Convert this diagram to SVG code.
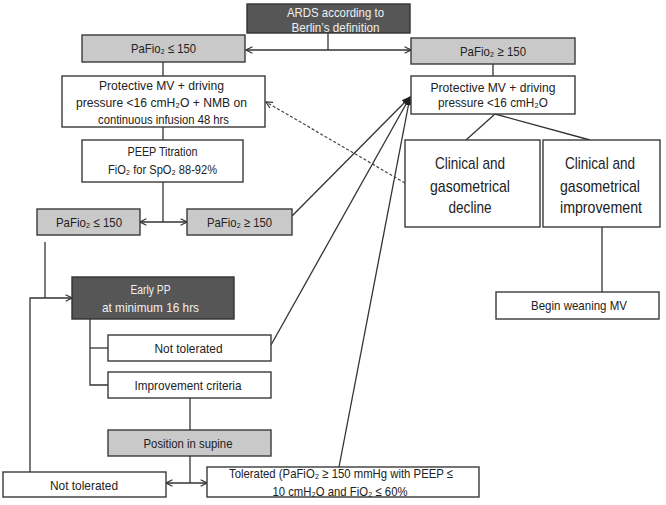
<svg xmlns="http://www.w3.org/2000/svg" width="666" height="505" viewBox="0 0 666 505">
<style>
  .box{fill:#fff;stroke:#3a3a3a;stroke-width:1.4}
  .gray{fill:#c9c9c9;stroke:#3a3a3a;stroke-width:1.4}
  .dark{fill:#565656;stroke:#333;stroke-width:1.4}
  text{font-family:"Liberation Sans","DejaVu Sans",Arial,sans-serif;font-size:13.5px;fill:#222;text-anchor:middle}
  .w{fill:#f0f0f0}
  .big{font-size:17px}
  .c{fill:none;stroke:#333;stroke-width:1.3}
  .d{fill:none;stroke:#444;stroke-width:1.2;stroke-dasharray:3,2}
</style>
<defs>
  <marker id="oa" viewBox="0 0 10 10" refX="9" refY="5" markerWidth="8" markerHeight="8" markerUnits="userSpaceOnUse" orient="auto-start-reverse">
    <path d="M1,1 L9,5 L1,9" fill="none" stroke="#333" stroke-width="1.5"/>
  </marker>
  <marker id="fa" viewBox="0 0 10 10" refX="9" refY="5" markerWidth="9" markerHeight="9" markerUnits="userSpaceOnUse" orient="auto">
    <path d="M0,1 L10,5 L0,9 Z" fill="#222"/>
  </marker>
</defs>

<g id="connectors">
  <line class="c" x1="328" y1="33" x2="328" y2="50"/>
  <line class="c" x1="246" y1="50" x2="411" y2="50" marker-start="url(#oa)" marker-end="url(#oa)"/>
  <line class="c" x1="163" y1="62" x2="163" y2="76"/>
  <line class="c" x1="493" y1="64" x2="493" y2="76"/>
  <line class="c" x1="163" y1="127" x2="163" y2="140"/>
  <line class="c" x1="163" y1="182" x2="163" y2="222"/>
  <line class="c" x1="140" y1="222" x2="187" y2="222" marker-start="url(#oa)" marker-end="url(#oa)"/>
  <polyline class="c" points="495,114 466,140"/>
  <polyline class="c" points="495,114 590,140"/>
  <line class="c" x1="602" y1="227" x2="602" y2="292"/>
  <polyline class="c" points="45,242 45,298"/>
  <polyline class="c" points="30,472 30,298 72,298" marker-end="url(#oa)"/>
  <polyline class="c" points="90,319 90,385 108,385"/>
  <line class="c" x1="90" y1="348" x2="108" y2="348"/>
  <line class="c" x1="190" y1="398" x2="190" y2="430"/>
  <line class="c" x1="190" y1="456" x2="190" y2="483"/>
  <line class="c" x1="166" y1="483" x2="207" y2="483" marker-start="url(#oa)" marker-end="url(#oa)"/>
  <line class="c" x1="292" y1="216" x2="410" y2="97" marker-end="url(#fa)"/>
  <line class="c" x1="271" y1="345" x2="410" y2="97" marker-end="url(#fa)"/>
  <line class="c" x1="339" y1="467" x2="410" y2="97" marker-end="url(#fa)"/>
  <line class="d" x1="405" y1="183" x2="266" y2="102" marker-end="url(#oa)"/>
</g>

<g id="ards">
  <rect class="dark" x="247" y="4" width="163" height="29"/>
  <text class="w" x="335.5" y="17" textLength="97" lengthAdjust="spacingAndGlyphs">ARDS according to</text>
  <text class="w" x="335.5" y="31.5" textLength="88" lengthAdjust="spacingAndGlyphs">Berlin’s definition</text>
</g>
<g id="pafio-low-top">
  <rect class="gray" x="82" y="35" width="163" height="27"/>
  <text x="163.5" y="53" textLength="65" lengthAdjust="spacingAndGlyphs">PaFio₂ ≤ 150</text>
</g>
<g id="pafio-high-top">
  <rect class="gray" x="411" y="38" width="164" height="26"/>
  <text x="493" y="56" textLength="66" lengthAdjust="spacingAndGlyphs">PaFio₂ ≥ 150</text>
</g>
<g id="protective-nmb">
  <rect class="box" x="62" y="76" width="203" height="51"/>
  <text x="161.5" y="90" textLength="125" lengthAdjust="spacingAndGlyphs">Protective MV + driving</text>
  <text x="161.5" y="107" textLength="171" lengthAdjust="spacingAndGlyphs">pressure &lt;16 cmH₂O + NMB on</text>
  <text x="163.5" y="124" textLength="131" lengthAdjust="spacingAndGlyphs">continuous infusion 48 hrs</text>
</g>
<g id="protective">
  <rect class="box" x="411" y="76" width="164" height="38"/>
  <text x="493" y="92" textLength="125" lengthAdjust="spacingAndGlyphs">Protective MV + driving</text>
  <text x="493" y="107" textLength="110" lengthAdjust="spacingAndGlyphs">pressure &lt;16 cmH₂O</text>
</g>
<g id="peep">
  <rect class="box" x="82" y="140" width="161" height="42"/>
  <text x="162.5" y="156" textLength="70" lengthAdjust="spacingAndGlyphs">PEEP Titration</text>
  <text x="162.5" y="174" textLength="109" lengthAdjust="spacingAndGlyphs">FiO₂ for SpO₂ 88-92%</text>
</g>
<g id="pafio-low-mid">
  <rect class="gray" x="37" y="209" width="103" height="26"/>
  <text x="89" y="226.5" textLength="66" lengthAdjust="spacingAndGlyphs">PaFio₂ ≤ 150</text>
</g>
<g id="pafio-high-mid">
  <rect class="gray" x="187" y="209" width="105" height="26"/>
  <text x="239.5" y="226.5" textLength="65" lengthAdjust="spacingAndGlyphs">PaFio₂ ≥ 150</text>
</g>
<g id="decline">
  <rect class="box" x="405" y="140" width="135" height="87"/>
  <text class="big" x="470" y="169" textLength="70" lengthAdjust="spacingAndGlyphs">Clinical and</text>
  <text class="big" x="470" y="191.5" textLength="80" lengthAdjust="spacingAndGlyphs">gasometrical</text>
  <text class="big" x="470" y="213" textLength="43" lengthAdjust="spacingAndGlyphs">decline</text>
</g>
<g id="improvement">
  <rect class="box" x="543" y="140" width="117" height="87"/>
  <text class="big" x="600" y="169" textLength="70" lengthAdjust="spacingAndGlyphs">Clinical and</text>
  <text class="big" x="600" y="191.5" textLength="80" lengthAdjust="spacingAndGlyphs">gasometrical</text>
  <text class="big" x="601" y="213" textLength="82" lengthAdjust="spacingAndGlyphs">improvement</text>
</g>
<g id="weaning">
  <rect class="box" x="496" y="292" width="163" height="27"/>
  <text x="579" y="310" textLength="96" lengthAdjust="spacingAndGlyphs">Begin weaning MV</text>
</g>
<g id="early-pp">
  <rect class="dark" x="72" y="277" width="162" height="42"/>
  <text class="w" x="150.5" y="294" textLength="40" lengthAdjust="spacingAndGlyphs">Early PP</text>
  <text class="w" x="150.5" y="312" textLength="97" lengthAdjust="spacingAndGlyphs">at minimum 16 hrs</text>
</g>
<g id="not-tolerated-1">
  <rect class="box" x="108" y="335" width="163" height="26"/>
  <text x="188.5" y="352.5" textLength="68" lengthAdjust="spacingAndGlyphs">Not tolerated</text>
</g>
<g id="improvement-criteria">
  <rect class="box" x="108" y="372" width="163" height="26"/>
  <text x="188" y="389.5" textLength="107" lengthAdjust="spacingAndGlyphs">Improvement criteria</text>
</g>
<g id="supine">
  <rect class="gray" x="108" y="430" width="163" height="26"/>
  <text x="188" y="447.5" textLength="89" lengthAdjust="spacingAndGlyphs">Position in supine</text>
</g>
<g id="not-tolerated-2">
  <rect class="box" x="3" y="472" width="163" height="25"/>
  <text x="84" y="489.5" textLength="68" lengthAdjust="spacingAndGlyphs">Not tolerated</text>
</g>
<g id="tolerated">
  <rect class="box" x="207" y="467" width="272" height="30"/>
  <text x="341" y="478" textLength="224" lengthAdjust="spacingAndGlyphs">Tolerated (PaFiO₂ ≥ 150 mmHg with PEEP ≤</text>
  <text x="340" y="496" textLength="135" lengthAdjust="spacingAndGlyphs">10 cmH₂O and FiO₂ ≤ 60%</text>
</g>
</svg>
